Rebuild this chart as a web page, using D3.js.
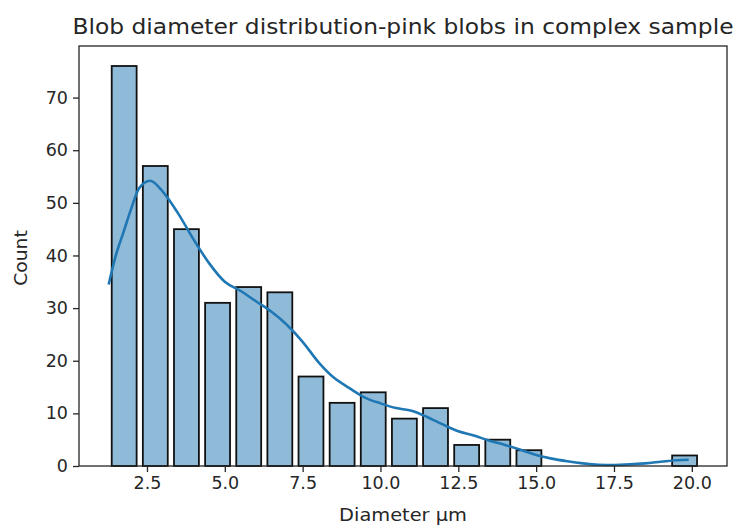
<!DOCTYPE html>
<html>
<head>
<meta charset="utf-8">
<script src="https://cdn.jsdelivr.net/npm/d3@7"></script>
<style>
  html, body { margin: 0; padding: 0; background: #fff; }
  svg { display: block; }
  text { font-family: "DejaVu Sans", sans-serif; fill: #262626; }
</style>
</head>
<body>
<svg id="chart" width="734" height="527"></svg>
<script>
// ---- data ----
const binStart = 1.268;
const binWidth = 1.0;
const counts = [76, 57, 45, 31, 34, 33, 17, 12, 14, 9, 11, 4, 5, 3, 0, 0, 0, 0, 2];
const kdeX = [1.27, 1.5, 1.75, 2.0, 2.25, 2.6, 3.0, 3.5, 4.0, 4.5, 5.0, 5.5, 6.0, 6.5, 7.0, 7.5, 8.0, 8.5, 9.0, 9.5, 10.0, 10.5, 11.0, 11.5, 12.0, 12.5, 13.0, 13.5, 14.0, 14.5, 15.0, 15.5, 16.0, 16.5, 17.0, 17.5, 18.0, 18.5, 19.0, 19.5, 19.9];
const kdeY = [34.5, 40, 44.5, 49, 52.8, 54.2, 52.2, 48, 43, 38.5, 35, 33.3, 31.3, 29.3, 26.8, 23.6, 19.8, 16.8, 14.8, 13, 11.9, 11, 10.5, 9.3, 7.9, 6.6, 5.8, 4.8, 4.0, 3.1, 2.1, 1.4, 0.9, 0.5, 0.25, 0.2, 0.3, 0.5, 0.8, 1.1, 1.2];
const xLimits = [0.317, 21.13];
const xTicks = [2.5, 5.0, 7.5, 10.0, 12.5, 15.0, 17.5, 20.0];
const yTicks = [0, 10, 20, 30, 40, 50, 60, 70];
const title = "Blob diameter distribution-pink blobs in complex sample";
const xLabel = "Diameter µm";
const yLabel = "Count";

// ---- layout ----
const mLeft = 79, mRight = 727, mTop = 46, mBottom = 466;
const svg = d3.select("#chart");

const x = d3.scaleLinear().domain(xLimits).range([mLeft, mRight]);
const y = d3.scaleLinear().domain([0, d3.max(counts) * 1.05]).range([mBottom, mTop]);

const bins = counts.map((c, i) => ({ x0: binStart + i * binWidth, x1: binStart + (i + 1) * binWidth, c }));
const shrink = 0.8;

svg.append("g").selectAll("rect").data(bins.filter(d => d.c > 0)).join("rect")
  .attr("x", d => x(d.x0 + (1 - shrink) / 2 * binWidth))
  .attr("width", d => x(d.x0 + (1 + shrink) / 2 * binWidth) - x(d.x0 + (1 - shrink) / 2 * binWidth))
  .attr("y", d => y(d.c))
  .attr("height", d => y(0) - y(d.c))
  .attr("fill", "rgba(31,119,180,0.5)")
  .attr("stroke", "#111")
  .attr("stroke-width", 1.8);

const kde = kdeX.map((v, i) => [v, kdeY[i]]);
svg.append("path").datum(kde)
  .attr("fill", "none")
  .attr("stroke", "#1f77b4")
  .attr("stroke-width", 2.6)
  .attr("d", d3.line().x(d => x(d[0])).y(d => y(d[1])).curve(d3.curveMonotoneX));

// axes
const xAxis = svg.append("g").attr("transform", `translate(0,${mBottom})`)
  .call(d3.axisBottom(x).tickValues(xTicks).tickFormat(d3.format(".1f")).tickSize(6).tickPadding(5));
const yAxis = svg.append("g").attr("transform", `translate(${mLeft},0)`)
  .call(d3.axisLeft(y).tickValues(yTicks).tickFormat(d3.format("d")).tickSize(6).tickPadding(5));
[xAxis, yAxis].forEach(g => {
  g.select(".domain").remove();
  g.selectAll("line").attr("stroke", "#262626").attr("stroke-width", 1.3);
  g.selectAll("text").attr("font-size", 17.5).attr("fill", "#262626").style("font-family", "DejaVu Sans");
});

// frame
svg.append("rect").attr("x", mLeft).attr("y", mTop).attr("width", mRight - mLeft).attr("height", mBottom - mTop)
  .attr("fill", "none").attr("stroke", "#262626").attr("stroke-width", 1.3);

svg.append("text").attr("transform", `translate(${(mLeft + mRight) / 2},33.5) scale(1.14,1)`).attr("text-anchor", "middle")
  .attr("font-size", 20.5).text(title);
svg.append("text").attr("transform", `translate(${(mLeft + mRight) / 2},520.5) scale(1.14,1)`).attr("text-anchor", "middle")
  .attr("font-size", 17).text(xLabel);
svg.append("text").attr("transform", `translate(27,${(mTop + mBottom) / 2 + 2}) rotate(-90) scale(1.1,1)`).attr("text-anchor", "middle")
  .attr("font-size", 17).text(yLabel);
</script>
</body>
</html>
